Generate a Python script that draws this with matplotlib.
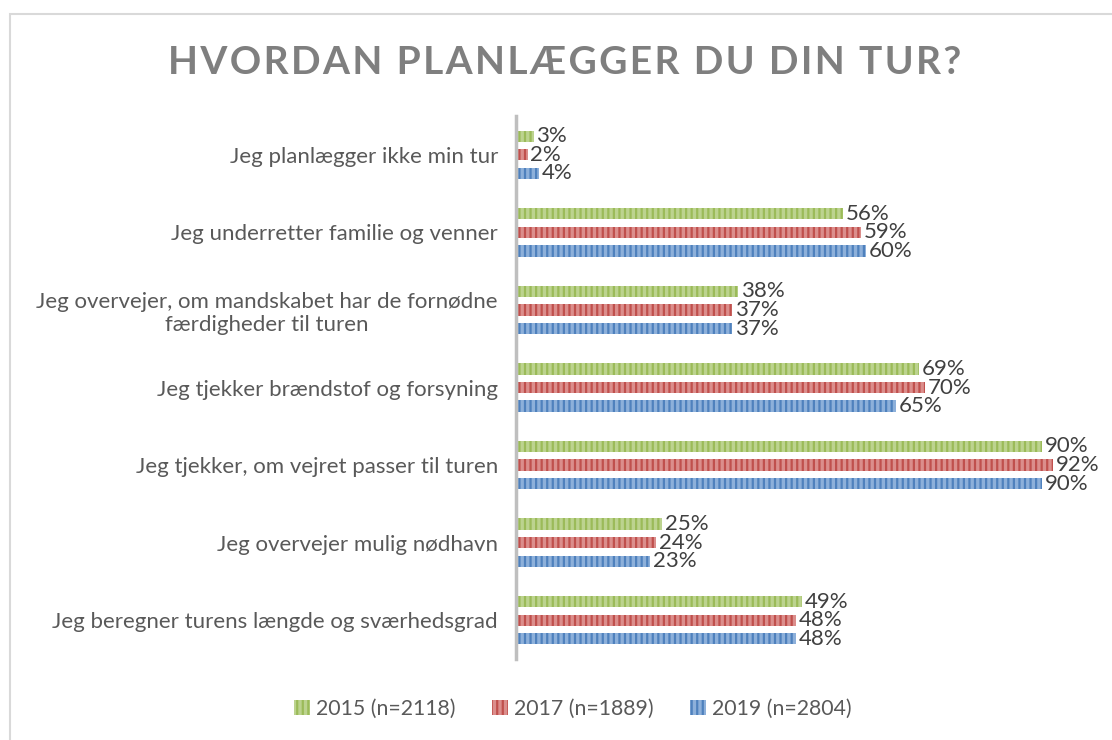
import matplotlib
matplotlib.use("Agg")
import matplotlib.pyplot as plt
import numpy as np
from matplotlib.patches import Rectangle, Patch

plt.rcParams['font.family'] = ['Lato', 'DejaVu Sans']
plt.rcParams['hatch.linewidth'] = 1.6

categories = [
    "Jeg planlægger ikke min tur",
    "Jeg underretter familie og venner",
    "Jeg overvejer, om mandskabet har de fornødne\nfærdigheder til turen",
    "Jeg tjekker brændstof og forsyning",
    "Jeg tjekker, om vejret passer til turen",
    "Jeg overvejer mulig nødhavn",
    "Jeg beregner turens længde og sværhedsgrad",
]
series_names = ["2015 (n=2118)", "2017 (n=1889)", "2019 (n=2804)"]
v2015 = [0.03, 0.56, 0.38, 0.69, 0.90, 0.25, 0.49]
v2017 = [0.02, 0.59, 0.37, 0.70, 0.92, 0.24, 0.48]
v2019 = [0.04, 0.60, 0.37, 0.65, 0.90, 0.23, 0.48]
series = [v2015, v2017, v2019]

face_cols = ["#BCD38F", "#DB8E8C", "#8DB0DA"]
hatch_cols = ["#9BBB59", "#C0504D", "#4F81BD"]

fig = plt.figure(figsize=(11.12, 7.4), dpi=100)
fig.patch.set_facecolor("white")

# chart area border
fig.add_artist(Rectangle((10/1112, -0.05), 1.2, 1 - 14/740 + 0.05,
                         transform=fig.transFigure, fill=False,
                         edgecolor="#D9D9D9", linewidth=1.5))

ax = fig.add_axes([516/1112, 1 - 659/740, (1100 - 516)/1112, (659 - 116)/740])
y = np.arange(len(categories))
offs = [-0.24, 0.0, 0.24]
h = 0.145
for vals, off, fc, hc in zip(series, offs, face_cols, hatch_cols):
    bars = ax.barh(y + off, vals, height=h, color=fc, edgecolor=hc,
                   hatch="|||", linewidth=0)
    for b, v in zip(bars, vals):
        ax.annotate(f"{int(round(v*100))}%", (b.get_width(), b.get_y() + b.get_height()/2),
                    xytext=(2, 0), textcoords="offset points", ha="left", va="center",
                    fontsize=16, color="#404040")

ax.set_xlim(0, 1.0)
ax.set_ylim(len(categories) - 0.5, -0.5)
ax.set_yticks(y)
ax.set_yticklabels(categories, fontsize=16, color="#595959", ha="right",
                   multialignment="center")
ax.tick_params(axis="y", length=0, pad=13)
ax.set_xticks([])
for s in ["top", "right", "bottom"]:
    ax.spines[s].set_visible(False)
ax.spines["left"].set_color("#BFBFBF")
ax.spines["left"].set_linewidth(2.5)

title = "HVORDAN PLANLÆGGER DU DIN TUR?"
fig.text(0.508, 1 - 62/740, "\u200a".join(title), ha="center", va="center",
         fontsize=28, fontweight="bold", color="#7F7F7F")

handles = [Patch(facecolor=fc, edgecolor=hc, hatch="|||", linewidth=0)
           for fc, hc in zip(face_cols, hatch_cols)]
fig.legend(handles, series_names, loc="center", bbox_to_anchor=(0.515, 1 - 709/740),
           ncol=3, frameon=False, fontsize=15.3, labelcolor="#595959",
           handlelength=0.75, handleheight=0.75, handletextpad=0.3, columnspacing=1.7)

fig.savefig("out.png", dpi=100, facecolor="white")
